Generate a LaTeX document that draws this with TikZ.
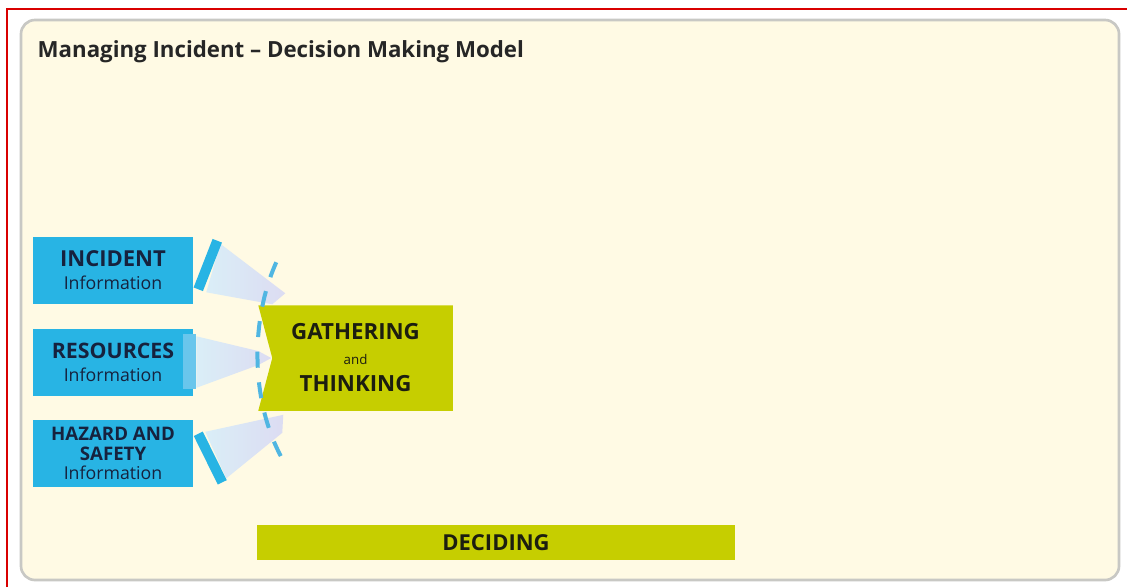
\documentclass[tikz,border=0pt]{standalone}
\usepackage{fontspec}
\setmainfont{Open Sans}
\usepackage{xcolor}
\usepackage{tikz}
\usetikzlibrary{positioning,calc,backgrounds}

\definecolor{infoblue}{RGB}{40,180,228}
\definecolor{infolight}{RGB}{105,198,236}
\definecolor{infotext}{RGB}{22,34,62}
\definecolor{stagegreen}{RGB}{198,206,0}
\definecolor{stagetext}{RGB}{28,30,16}
\definecolor{panelfill}{RGB}{255,250,228}
\definecolor{panelline}{RGB}{200,200,196}
\definecolor{funnelstart}{RGB}{218,238,247}
\definecolor{funnelend}{RGB}{220,220,242}
\definecolor{dashblue}{RGB}{80,182,226}

\begin{document}
\begin{tikzpicture}[x=0.75pt, y=-0.75pt,
    infobox/.style={rectangle, fill=infoblue, text=infotext, inner sep=0pt,
        minimum width=120pt, minimum height=50.25pt, align=center},
    stagebox/.style={rectangle, inner sep=0pt, text=stagetext, align=center},
    funnel/.style={left color=funnelstart, right color=funnelend},
    funnelbar/.style={draw=infoblue, line width=7.5pt},
    dashline/.style={draw=dashblue, line width=3pt, dash pattern=on 12pt off 11pt}]
    \useasboundingbox (0,0) rectangle (1127,587);

    % Nodes
    \node[anchor=base west, font=\bfseries\fontsize{16.7}{18}\selectfont, text=black!85] (title) at (33,57) {Managing Incident -- Decision Making Model};
    \node[infobox, font=\fontsize{13.3}{17.25}\selectfont] (inc) at (113,270.5) {{\fontsize{16.5}{16}\selectfont\bfseries INCIDENT}\\{Information}};
    \node[infobox, font=\fontsize{13.3}{17.25}\selectfont, below=18pt of inc] (res) {{\fontsize{16}{16}\selectfont\bfseries RESOURCES}\\{Information}};
    \node[infobox, font=\fontsize{13.3}{14.5}\selectfont, below=18pt of res] (haz) {{\fontsize{14}{12}\selectfont\bfseries HAZARD AND}\\{\fontsize{14}{12}\selectfont\bfseries SAFETY}\\{Information}};
    \node[stagebox, font=\fontsize{10}{18.75}\selectfont, right=48.75pt of res, yshift=3pt, minimum width=145.5pt, minimum height=78.75pt] (gat) {{\fontsize{16.7}{16}\selectfont\bfseries GATHERING}\\{and}\\[1.5pt]{\fontsize{16.7}{16}\selectfont\bfseries THINKING}};
    \node[stagebox, fill=stagegreen, minimum width=358.5pt, minimum height=26.25pt] (dec) at (496,542.5) {\fontsize{16.5}{16}\selectfont\bfseries DECIDING};

    \begin{pgfonlayer}{background}
        \fill[white] (0,0) rectangle (1127,587);
        \draw[red!85!black, line width=1pt] (7,587) -- (7,9) -- (1127,9);
        \draw[panelline, fill=panelfill, line width=2pt, rounded corners=10.5pt] (21,20) rectangle (1119,580);
        \fill[stagegreen] (gat.north west) -- (gat.north east) -- (gat.south east) -- (gat.south west) -- ($(gat.west)+(14,0)$) -- cycle;
    \end{pgfonlayer}

    % Funnels
    \shade[funnel] ($(inc.north east)+(27,7)$) -- ($(gat.north west)+(27,-12)$) -- ($(gat.north west)+(14,-1)$) -- ($(inc.south east)+(13,-12)$) -- cycle;
    \shade[funnel] ($(res.north east)+(3,8)$) -- ($(gat.west)+(0,-7)$) -- ($(gat.west)+(13,0)$) -- ($(gat.west)+(0,7)$) -- ($(res.south east)+(3,-8)$) -- cycle;
    \shade[funnel] ($(haz.north east)+(12,12)$) -- ($(gat.south west)+(25,4)$) -- ($(gat.south west)+(24,22)$) -- ($(haz.south east)+(33,-9)$) -- cycle;
    \draw[funnelbar] ($(inc.north east)+(24,4)$) -- ($(inc.south east)+(5,-15)$);
    \fill[infolight] ($(res.north east)+(-10,6)$) rectangle ($(res.south east)+(3,-7)$);
    \draw[funnelbar] ($(haz.north east)+(5,14)$) -- ($(haz.south east)+(29,-5)$);
    \draw[dashline] ($(gat.north west)+(18,-43)$) .. controls ($(gat.north west)+(-8,15)$) and ($(gat.south west)+(-8,-10)$) .. ($(gat.south west)+(24,48)$);
\end{tikzpicture}
\end{document}
